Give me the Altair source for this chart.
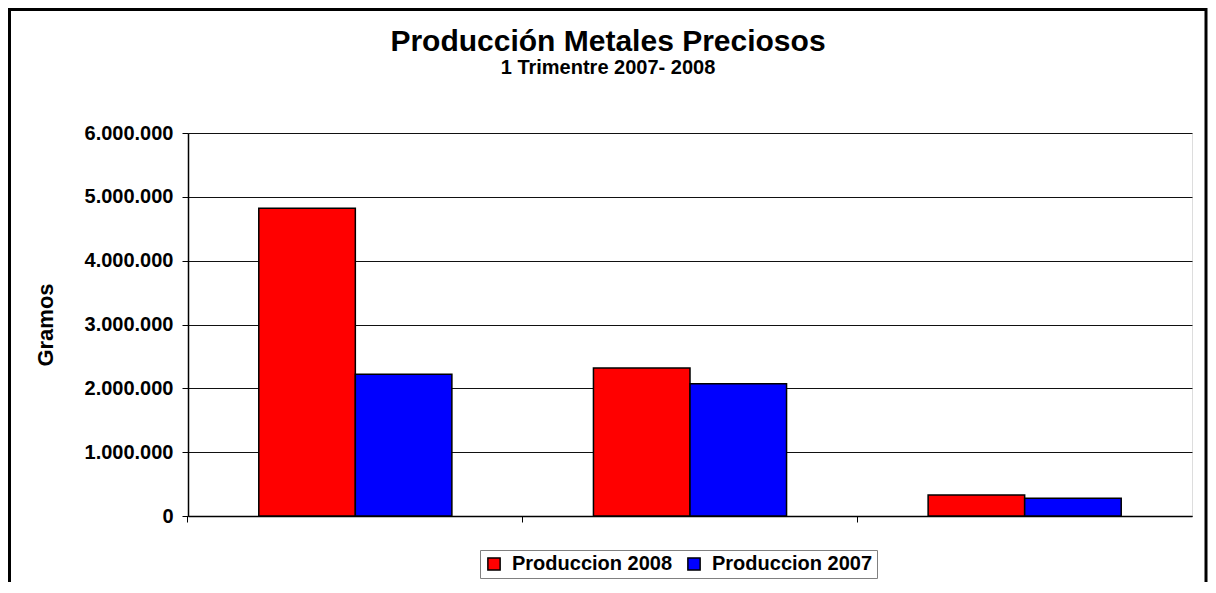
import altair as alt
import pandas as pd

categorias = ["Grupo 1", "Grupo 2", "Grupo 3"]
series = ["Produccion 2008", "Produccion 2007"]
valores_2008 = [4820000, 2320000, 330000]
valores_2007 = [2220000, 2070000, 280000]
y_ticks = [0, 1000000, 2000000, 3000000, 4000000, 5000000, 6000000]
titulo = "Producción Metales Preciosos"
subtitulo = "1 Trimentre 2007- 2008"
eje_y = "Gramos"

rows = []
for c, a, b in zip(categorias, valores_2008, valores_2007):
    rows.append({"cat": c, "serie": series[0], "valor": a})
    rows.append({"cat": c, "serie": series[1], "valor": b})
df = pd.DataFrame(rows)

FONT = "Liberation Sans"

bars = alt.Chart(df).mark_bar(stroke="black", strokeWidth=1.5).encode(
    x=alt.X("cat:N", sort=categorias, title=None,
            scale=alt.Scale(paddingInner=0.423, paddingOuter=0.2115),
            axis=alt.Axis(labels=False, ticks=True, tickSize=6, tickColor="black",
                          domain=True, domainColor="black", domainWidth=1.5,
                          bandPosition=-0.367, grid=False)),
    xOffset=alt.XOffset("serie:N", sort=series,
                        scale=alt.Scale(paddingInner=0, paddingOuter=0)),
    y=alt.Y("valor:Q", title=eje_y,
            scale=alt.Scale(domain=[0, 6000000], nice=False),
            axis=alt.Axis(values=y_ticks, format=",d", tickSize=6, tickColor="black",
                          domainColor="black", domainWidth=1.5,
                          grid=True, gridColor="#111111", gridWidth=1,
                          labelFont=FONT, labelFontSize=20, labelFontWeight="bold",
                          labelColor="black", labelPadding=9,
                          titleFont=FONT, titleFontSize=22, titleFontWeight="bold",
                          titleColor="black", titleX=-143, titleBaseline="middle")),
    color=alt.Color("serie:N", sort=series,
                    scale=alt.Scale(domain=series, range=["#FF0000", "#0000FF"]),
                    legend=alt.Legend(title=None, orient="none", legendX=292, legendY=417,
                                      direction="horizontal", symbolType="square",
                                      symbolSize=150, symbolStrokeColor="black",
                                      symbolStrokeWidth=1.5, labelFont=FONT,
                                      labelFontSize=20, labelFontWeight="bold",
                                      labelColor="black", labelLimit=400,
                                      strokeColor="#808080",
                                      padding=4, columnPadding=11, labelOffset=8)),
)

one = pd.DataFrame({"t": [0]})

title_mark = alt.Chart(one).mark_text(
    text=titulo, font=FONT, fontSize=30, fontWeight="bold", color="black",
    align="center", baseline="alphabetic"
).encode(x=alt.value(420), y=alt.value(-82))

subtitle_mark = alt.Chart(one).mark_text(
    text=subtitulo, font=FONT, fontSize=20, fontWeight="bold", color="black",
    align="center", baseline="alphabetic"
).encode(x=alt.value(420), y=alt.value(-59))

border = alt.Chart(one).mark_rect(
    fillOpacity=0, stroke="black", strokeWidth=3
).encode(x=alt.value(-178.5), x2=alt.value(1018), y=alt.value(-123.5), y2=alt.value(470))

chart = alt.layer(bars, title_mark, subtitle_mark, border).properties(
    width=1004, height=383,
    autosize=alt.AutoSizeParams(type="none"),
    padding={"left": 180, "top": 125, "right": 16, "bottom": 66},
    background="white",
).configure_view(stroke="black", strokeWidth=1.5).configure(
    locale={"number": {"decimal": ",", "thousands": ".", "grouping": [3],
                       "currency": ["", ""]}}
)

chart.save("out.html", embed_options={"renderer": "svg", "actions": False})
